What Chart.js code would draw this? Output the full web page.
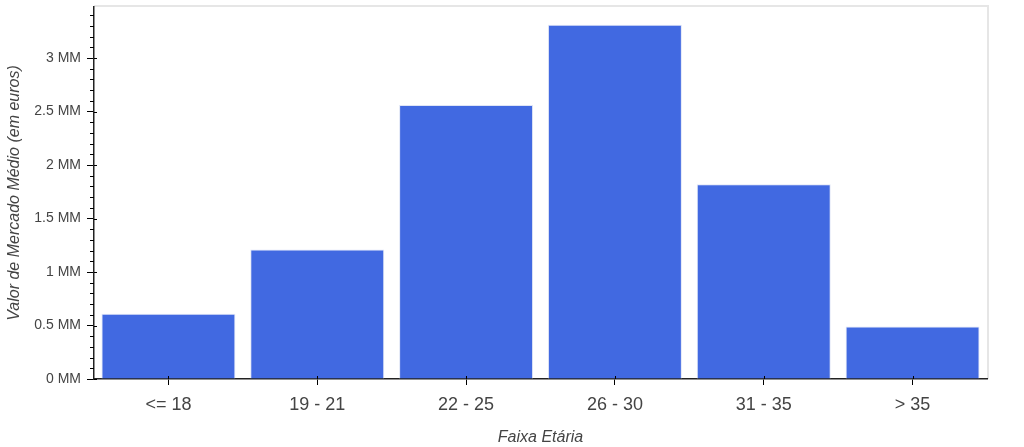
<!DOCTYPE html>
<html>
<head>
<meta charset="utf-8">
<script src="https://cdn.jsdelivr.net/npm/chart.js@4"></script>
<style>
  html, body { margin: 0; padding: 0; background: #fff; }
  #wrap { width: 1024px; height: 447px; }
</style>
</head>
<body>
<div id="wrap"><canvas id="barChart" width="1024" height="447"></canvas></div>
<script>
// age bands and average market value (millions of euros)
var faixas = ["<= 18", "19 - 21", "22 - 25", "26 - 30", "31 - 35", "> 35"];
var valores = [0.61, 1.21, 2.56, 3.31, 1.82, 0.49];
var yMax = 3.477;
var yMinorStep = 0.1;

// light frame around the plot area + minor ticks on y axis
var framePlugin = {
    id: "frame",
    beforeDraw: function(chart) {
        var a = chart.chartArea;
        var ctx = chart.ctx;
        ctx.save();
        ctx.strokeStyle = "#e6e6e6";
        ctx.lineWidth = 2;
        ctx.beginPath();
        ctx.moveTo(a.left, a.top - 1);
        ctx.lineTo(a.right + 1, a.top - 1);
        ctx.lineTo(a.right + 1, a.bottom);
        ctx.stroke();
        ctx.restore();
    },
    afterDraw: function(chart) {
        var y = chart.scales.y;
        var ctx = chart.ctx;
        var x0 = chart.chartArea.left;
        ctx.save();
        ctx.strokeStyle = "#000";
        ctx.lineWidth = 1;
        ctx.beginPath();
        for (var i = 1; i * yMinorStep < yMax; i++) {
            if (i % 5 === 0) continue;
            var py = Math.round(y.getPixelForValue(i * yMinorStep)) + 0.5;
            ctx.moveTo(x0 - 4, py);
            ctx.lineTo(x0, py);
        }
        ctx.stroke();
        // major ticks poke a bit into the plot
        ctx.beginPath();
        for (var v = 0; v <= yMax; v += 0.5) {
            var p = Math.round(y.getPixelForValue(v)) + 0.5;
            ctx.moveTo(x0, p);
            ctx.lineTo(x0 + 3, p);
        }
        var xs = chart.scales.x;
        for (var k = 0; k < faixas.length; k++) {
            var px = Math.round(xs.getPixelForValue(k)) + 0.5;
            ctx.moveTo(px, chart.chartArea.bottom);
            ctx.lineTo(px, chart.chartArea.bottom - 3);
        }
        ctx.stroke();
        ctx.restore();
    }
};

var ctx = document.getElementById("barChart");
var myChart = new Chart(ctx, {
    type: "bar",
    data: {
        labels: faixas,
        datasets: [{
            label: "Valor de Mercado Médio",
            backgroundColor: "#4169E1",
            borderColor: "rgba(220,226,245,0.9)",
            borderWidth: 1,
            barPercentage: 0.9,
            categoryPercentage: 1.0,
            data: valores
        }]
    },
    plugins: [framePlugin],
    options: {
        responsive: false,
        animation: false,
        layout: { padding: { top: 7, right: 37, left: 0, bottom: 0 } },
        plugins: {
            legend: { display: false },
            tooltip: { enabled: false }
        },
        scales: {
            x: {
                afterFit: function(scale) { scale.height = 68; },
                grid: {
                    display: true,
                    offset: false,
                    drawOnChartArea: false,
                    drawTicks: true,
                    tickLength: 6,
                    color: "#000"
                },
                border: { display: true, color: "#222", width: 1.5 },
                ticks: {
                    color: "#444",
                    padding: 9,
                    font: { family: "Liberation Sans, Arial, sans-serif", size: 18 }
                },
                title: {
                    display: true,
                    text: "Faixa Etária",
                    color: "#444",
                    padding: { top: 3, bottom: 0 },
                    font: { family: "Liberation Sans, Arial, sans-serif", size: 16, style: "italic" }
                }
            },
            y: {
                min: 0,
                max: yMax,
                afterFit: function(scale) {
                    scale.width = 94;
                    scale.paddingTop = 0;
                    scale.paddingBottom = 0;
                },
                afterBuildTicks: function(scale) {
                    scale.ticks = scale.ticks.filter(function(t) {
                        return Math.abs(t.value * 2 - Math.round(t.value * 2)) < 1e-6;
                    });
                },
                grid: {
                    display: true,
                    drawOnChartArea: false,
                    drawTicks: true,
                    tickLength: 7,
                    color: "#000"
                },
                border: { display: true, color: "#222", width: 1.5 },
                ticks: {
                    stepSize: 0.5,
                    color: "#444",
                    padding: 6,
                    font: { family: "Liberation Sans, Arial, sans-serif", size: 14 },
                    callback: function(value) {
                        return (+value.toFixed(1)) + " MM";
                    }
                },
                title: {
                    display: true,
                    text: "Valor de Mercado Médio (em euros)",
                    color: "#444",
                    padding: { top: 5, bottom: 0 },
                    font: { family: "Liberation Sans, Arial, sans-serif", size: 16, style: "italic" }
                }
            }
        }
    }
});
</script>
</body>
</html>
